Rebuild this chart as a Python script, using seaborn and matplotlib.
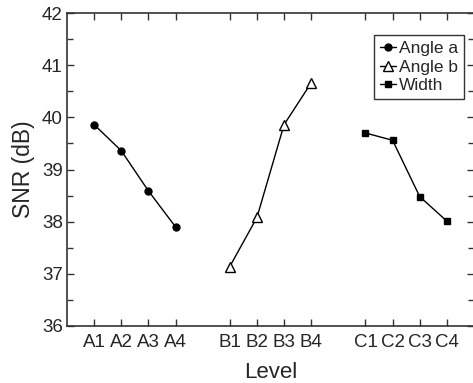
import pandas as pd
import matplotlib.pyplot as plt
import matplotlib.ticker as mticker
import seaborn as sns

# datos
levels_a = ["A1", "A2", "A3", "A4"]
levels_b = ["B1", "B2", "B3", "B4"]
levels_c = ["C1", "C2", "C3", "C4"]
pos_a = [1, 2, 3, 4]
pos_b = [6, 7, 8, 9]
pos_c = [11, 12, 13, 14]
snr_angle_a = [39.86, 39.36, 38.59, 37.90]
snr_angle_b = [37.14, 38.08, 39.86, 40.66]
snr_width = [39.70, 39.56, 38.48, 38.01]

df = pd.concat([
    pd.DataFrame({"pos": pos_a, "snr": snr_angle_a, "factor": "Angle a"}),
    pd.DataFrame({"pos": pos_b, "snr": snr_angle_b, "factor": "Angle b"}),
    pd.DataFrame({"pos": pos_c, "snr": snr_width, "factor": "Width"}),
])

sns.set_theme(style="ticks")
plt.rcParams["font.family"] = ["Liberation Sans", "DejaVu Sans"]

fig = plt.figure(figsize=(4.73, 3.83), dpi=100)
ax = fig.add_axes([67 / 473, 1 - 326 / 383, (474 - 67) / 473, (326 - 13) / 383])

estilos = {
    "Angle a": dict(marker="o", markersize=5, markerfacecolor="black"),
    "Angle b": dict(marker="^", markersize=6.5, markerfacecolor="white"),
    "Width": dict(marker="s", markersize=4, markerfacecolor="black"),
}
for factor, sub in df.groupby("factor", sort=False):
    sns.lineplot(data=sub, x="pos", y="snr", ax=ax, color="black", lw=1,
                 markeredgecolor="black", markeredgewidth=1, label=factor,
                 **estilos[factor])

ax.set_xlim(0, 15)
ax.set_ylim(36, 42)
ax.set_xticks(pos_a + pos_b + pos_c)
ax.set_xticklabels(levels_a + levels_b + levels_c)
ax.yaxis.set_major_locator(mticker.MultipleLocator(1))
ax.yaxis.set_minor_locator(mticker.MultipleLocator(0.5))
ax.tick_params(which="both", direction="in", top=True, right=True,
               labelsize=13.5, color="#333333", width=1)
ax.tick_params(which="major", length=5)
ax.tick_params(which="minor", length=4)
ax.tick_params(axis="y", pad=3)
ax.tick_params(axis="x", pad=6)
for s in ax.spines.values():
    s.set_color("#333333")
    s.set_linewidth(1.2)

ax.set_xlabel("Level", fontsize=16, labelpad=8)
ax.set_ylabel("SNR (dB)", fontsize=16.5, labelpad=5)

leg = ax.legend(loc="upper right", bbox_to_anchor=(0.975, 0.93), fontsize=12.5,
                frameon=True, fancybox=False, edgecolor="black",
                handlelength=0.9, handletextpad=0.15, borderpad=0.35,
                labelspacing=0.2, borderaxespad=0)
leg.get_frame().set_linewidth(1)

fig.savefig("out.png", dpi=100)
